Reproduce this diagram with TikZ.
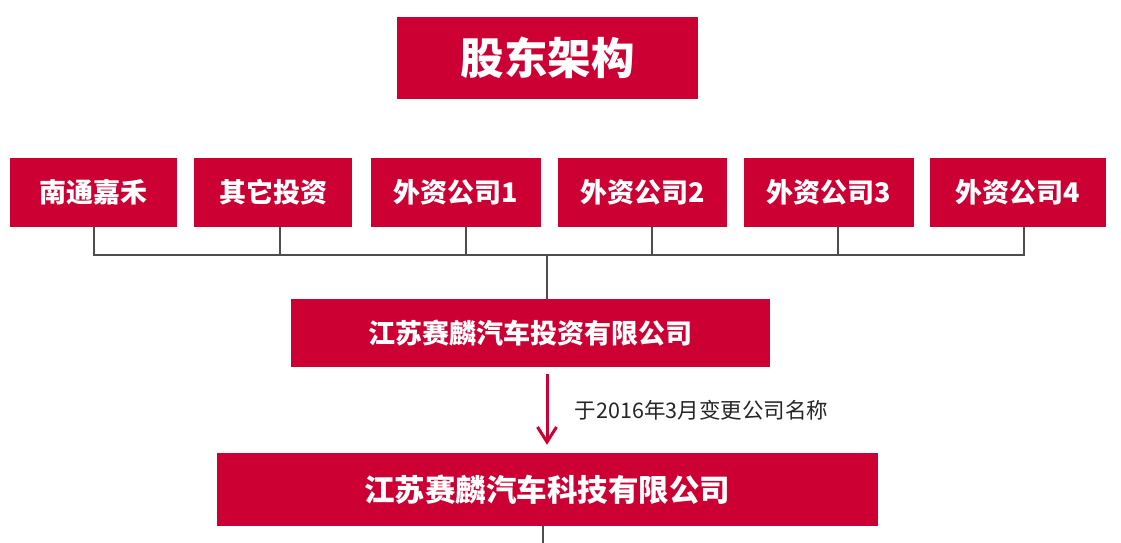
\documentclass[tikz,border=0pt]{standalone}
\usepackage{fontspec}
\usepackage{xcolor}
\setmainfont{Noto Sans CJK SC}
\definecolor{sailinred}{RGB}{204, 0, 51}
\definecolor{linegray}{RGB}{77, 77, 77}
\usetikzlibrary{arrows.meta, positioning}

\tikzset{
	holder/.style = {rectangle, fill = sailinred, text = white, font = \bfseries\fontsize{27}{27}\selectfont, align = center, inner sep = 0pt, minimum height = 69pt},
	bus/.style = {draw = linegray, line width = 2pt},
}

\begin{document}
\begin{tikzpicture}[x = 1pt, y = 1pt]
	\fill[white] (0,0) rectangle (1121,543);
	\useasboundingbox (0,0) rectangle (1121,543);
	
	\node[holder, minimum width = 301pt, minimum height = 82pt, font = \bfseries\fontsize{43.5}{43.5}\selectfont] (title) at (547.5, 485){股东架构};
	
	\node[holder, minimum width = 167pt] (nantong) at (93.5, 350.5){南通嘉禾};
	
	\node[holder, minimum width = 158pt] (other) at (273, 350.5){其它投资};
	
	\node[holder, minimum width = 170pt] (foreign1) at (456, 350.5){外资公司1};
	
	\node[holder, minimum width = 169pt] (foreign2) at (642.5, 350.5){外资公司2};
	
	\node[holder, minimum width = 170pt] (foreign3) at (829, 350.5){外资公司3};
	
	\node[holder, minimum width = 176pt] (foreign4) at (1018, 350.5){外资公司4};
	
	\node[holder, minimum width = 479pt, minimum height = 68pt, font = \bfseries\fontsize{27}{27}\selectfont] (invest) at (530.5, 210){江苏赛麟汽车投资有限公司};
	
	\node[holder, minimum width = 661pt, minimum height = 73pt, font = \bfseries\fontsize{30.5}{30.5}\selectfont] (tech) at (547, 53.5){江苏赛麟汽车科技有限公司};
	
	\coordinate (join) at (547, 288);
	\coordinate (tail) at (543, 0);
	
	\draw[bus] (nantong.south) |- (join);
	
	\draw[bus] ([xshift = 7pt]other.south) |- (join);
	
	\draw[bus] ([xshift = 10pt]foreign1.south) |- (join);
	
	\draw[bus] ([xshift = 9.5pt]foreign2.south) |- (join);
	
	\draw[bus] ([xshift = 9pt]foreign3.south) |- (join);
	
	\draw[bus] ([xshift = 6pt]foreign4.south) |- (join);
	
	\draw[bus] (join) -- (join |- invest.north);
	
	\draw[-{Straight Barb[length = 15pt, width = 19pt]}, draw = sailinred, line width = 3pt, shorten <= 7pt, shorten >= 8pt] (invest.south -| tech.north) -- node[right, xshift = 23pt, text = black!85, font = \fontsize{21.5}{21.5}\selectfont] {于2016年3月变更公司名称} (tech.north);
	
	\draw[bus] (tech.south -| tail) -- (tail);
\end{tikzpicture}
\end{document}
